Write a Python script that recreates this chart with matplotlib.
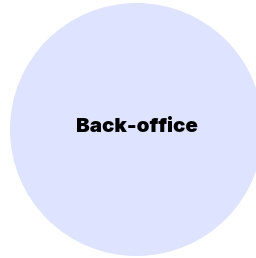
import matplotlib
matplotlib.use('Agg')
import matplotlib.pyplot as plt
from matplotlib.patches import Circle

# single bubble of a bubble chart, partly cut off on the right
labels = ["Back-office"]
values = [1.0]

W, H = 256, 258
fig = plt.figure(figsize=(W / 100, H / 100), dpi=100)
ax = fig.add_axes([0, 0, 1, 1])
ax.set_xlim(0, W)
ax.set_ylim(H, 0)
ax.axis('off')

# bubble radius scaled from the value
r = 126.5 * values[0] ** 0.5
cx, cy = 136.5, 129.5
ax.add_patch(Circle((cx, cy), r, facecolor='#dee3ff', edgecolor='none'))
ax.text(cx, cy - 2.5, labels[0], ha='center', va='center', fontsize=14.8,
        fontweight='black', family='Inter', color='#000000')

fig.savefig('out.png', dpi=100, facecolor='white')
